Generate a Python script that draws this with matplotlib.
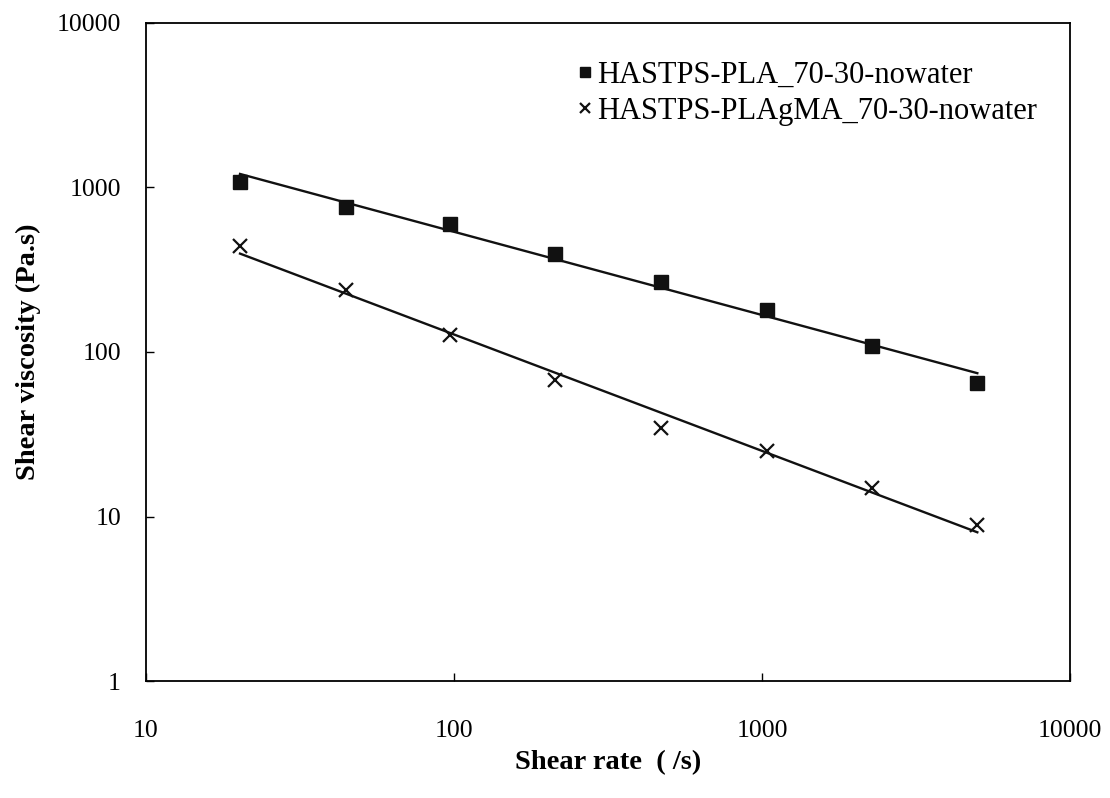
import matplotlib
matplotlib.use("Agg")
import matplotlib.pyplot as plt
import numpy as np

plt.rcParams['font.family'] = ['Liberation Serif', 'DejaVu Serif']

# shear rate (1/s) and shear viscosity (Pa.s)
shear_rate = np.array([20.2, 44.6, 97, 213, 469, 1035, 2270, 5000])
visc_pla = np.array([1084, 758, 600, 394, 267, 180, 109, 64.5])
visc_plagma = np.array([443, 238, 127, 68, 34.4, 25, 14.8, 8.9])
labels = ["HASTPS-PLA_70-30-nowater", "HASTPS-PLAgMA_70-30-nowater"]


def powerFit(x, y, n=200):
    # power law trend line, fitted in log-log space
    p = np.polyfit(np.log10(x), np.log10(y), 1)
    xf = np.logspace(np.log10(x[0]), np.log10(x[-1]), n)
    return xf, 10 ** np.polyval(p, np.log10(xf))


fig = plt.figure(figsize=(11.1, 7.98), dpi=100)
ax = fig.add_axes([0.1315, 0.1466, 0.8325, 0.8246])

ax.plot(shear_rate, visc_pla, linestyle="none", marker="s", ms=9.5, color="#111111", label=labels[0])
ax.plot(shear_rate, visc_plagma, linestyle="none", marker="x", ms=10, mew=1.6, color="#111111", label=labels[1])

xf, yf = powerFit(shear_rate, visc_pla)
ax.plot(xf, yf, color="#111111", lw=1.7)
xf, yf = powerFit(shear_rate, visc_plagma)
ax.plot(xf, yf, color="#111111", lw=1.7)

ax.set_xscale("log")
ax.set_yscale("log")
ax.set_xlim(10, 10000)
ax.set_ylim(1, 10000)
ax.set_xticks([10, 100, 1000, 10000])
ax.set_xticklabels(["10", "100", "1000", "10000"])
ax.set_yticks([1, 10, 100, 1000, 10000])
ax.set_yticklabels(["1", "10", "100", "1000", "10000"])
ax.minorticks_off()
ax.tick_params(axis="both", direction="in", length=6, width=1, labelsize=18.5)
ax.tick_params(axis="x", pad=28)
ax.tick_params(axis="y", pad=18)
for s in ax.spines.values():
    s.set_linewidth(1.3)

ax.set_xlabel("Shear rate  ( /s)", fontsize=20.5, fontweight="bold", labelpad=6)
ax.set_ylabel("Shear viscosity (Pa.s)", fontsize=20.5, fontweight="bold", labelpad=11)

ax.legend(loc="upper left", bbox_to_anchor=(0.468, 0.943), frameon=False, fontsize=22,
          handlelength=0.4, handletextpad=0.2, markerscale=0.75, labelspacing=0.25,
          borderaxespad=0, borderpad=0)

fig.savefig("out.png", dpi=100)
